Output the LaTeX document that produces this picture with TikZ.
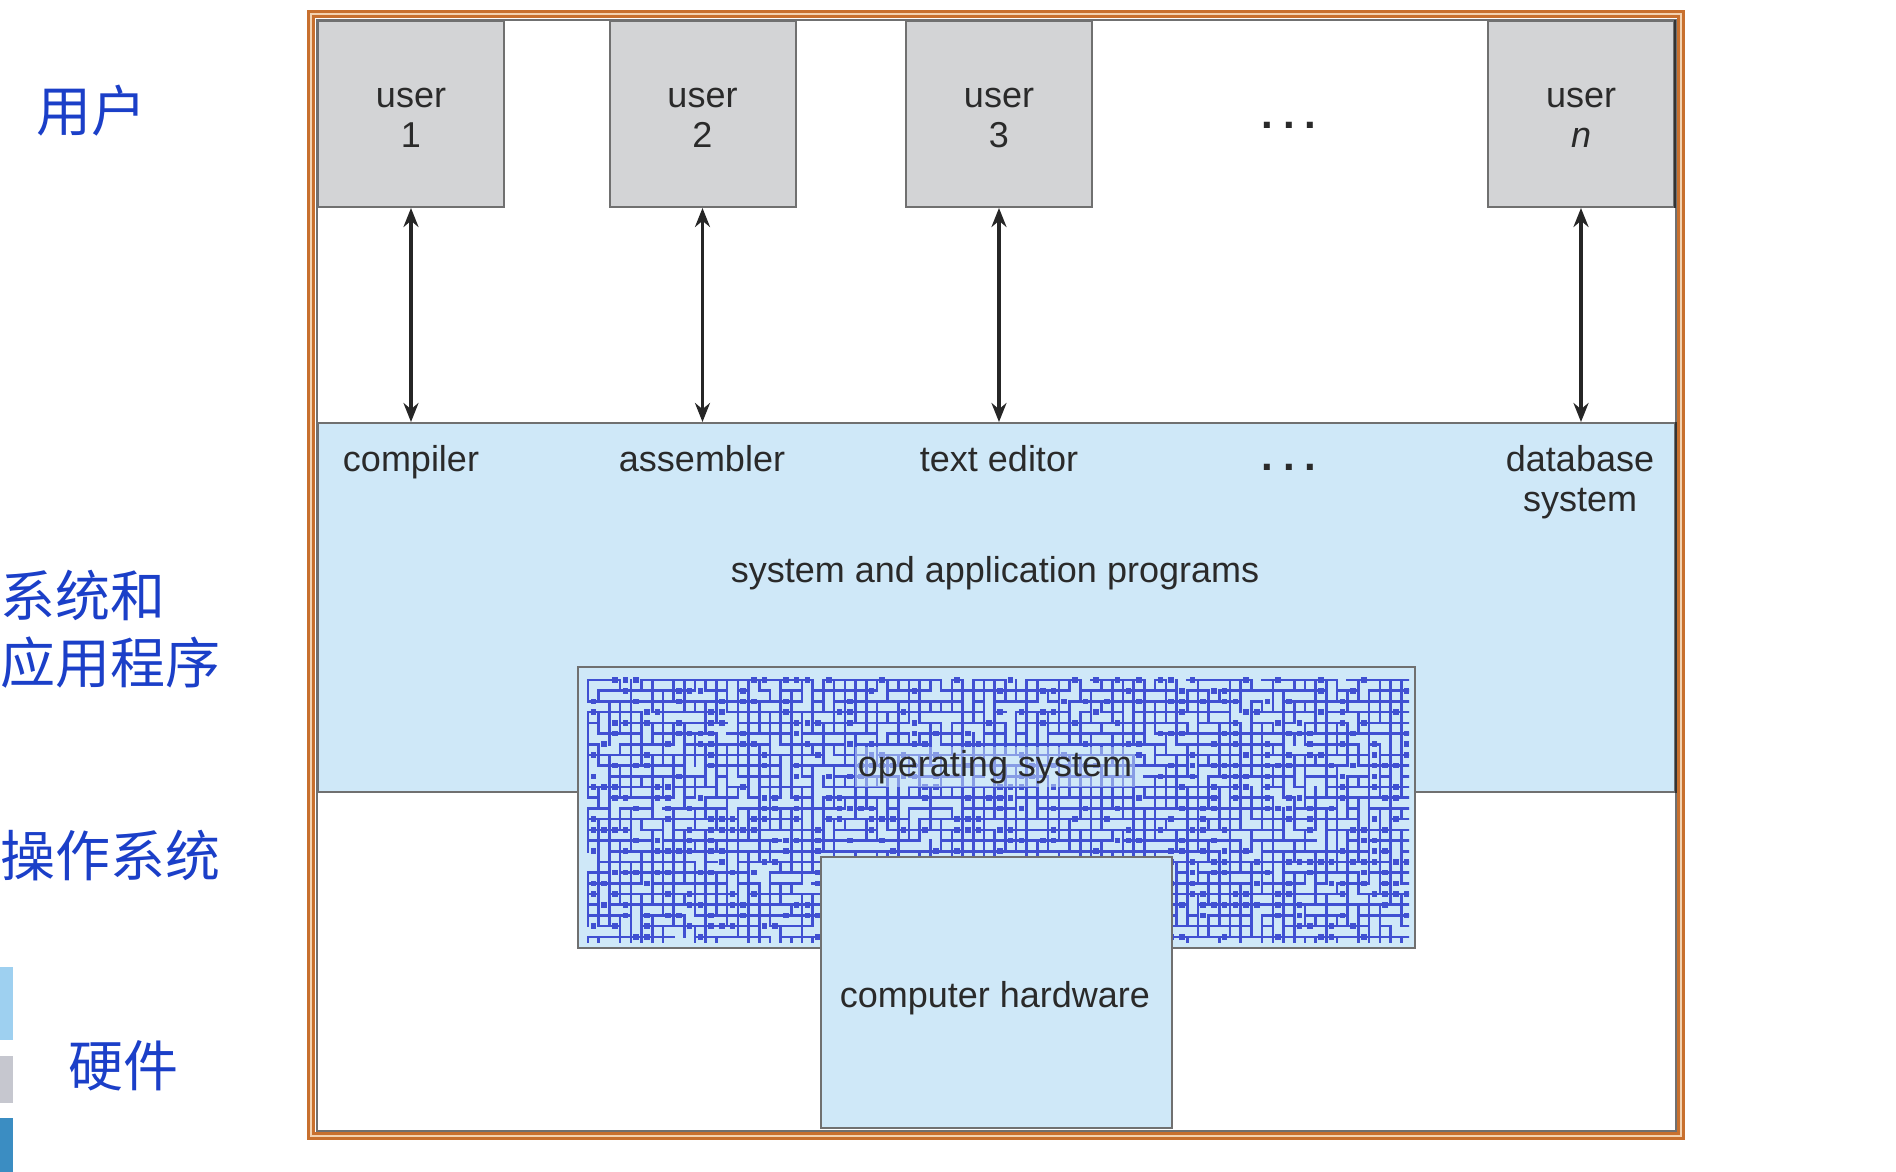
\documentclass[tikz,border=0pt]{standalone}
\usepackage{fontspec}
\setmainfont{Liberation Sans}
\newfontfamily\cjk{Noto Sans CJK SC}
\usetikzlibrary{arrows.meta}
\definecolor{frameorange}{HTML}{C8702E}
\definecolor{framecream}{HTML}{F3D2B0}
\definecolor{appblue}{HTML}{CFE8F8}
\definecolor{usergrey}{HTML}{D3D4D6}
\definecolor{edgegrey}{HTML}{707070}
\definecolor{txt}{HTML}{2A2A2A}
\definecolor{cnblue}{HTML}{1B3FC8}
\definecolor{patblue}{HTML}{4050D2}
\definecolor{decoA}{HTML}{9ED0F0}
\definecolor{decoB}{HTML}{C6C7CF}
\definecolor{decoC}{HTML}{3B8DC2}
\tikzset{
  userbox/.style={draw=edgegrey, line width=2pt, fill=usergrey, minimum width=186pt, minimum height=186pt, inner sep=0pt, align=center, text=txt, font=\fontsize{36}{40}\selectfont, text height=66pt, text depth=0pt},
  lbl/.style={text=txt, font=\fontsize{36}{40}\selectfont, align=center, inner sep=0pt},
  rowlbl/.style={lbl, text height=26pt, text depth=7pt},
  dots/.style={text=txt, font=\bfseries\fontsize{42}{44}\selectfont, inner sep=0pt},
  cnlbl/.style={text=cnblue, font=\cjk\fontsize{55}{60}\selectfont, inner sep=0pt},
  biarrow/.style={line width=3.2pt, {Stealth[length=19pt,width=15pt]}-{Stealth[length=19pt,width=15pt]}, black!85},
  ospat/.style={draw=patblue, line width=2.6pt, line cap=rect},
}
\begin{document}
\begin{tikzpicture}[x=1pt,y=-1pt]
\useasboundingbox (0,0) rectangle (1896,1172);
\fill[white] (0,0) rectangle (1896,1172);
% left decoration blocks
\fill[decoA] (0,967) rectangle (13,1040);
\fill[decoB] (0,1056) rectangle (13,1103);
\fill[decoC] (0,1118) rectangle (13,1172);
% frame
\fill[white] (312,15) rectangle (1680,1135);
\draw[frameorange, line width=8pt] (311,14) rectangle (1681,1136);
\draw[framecream, line width=2pt] (311,14) rectangle (1681,1136);
\draw[edgegrey, line width=1.5pt] (317,20) rectangle (1676,1131);
% application layer
\node[draw=edgegrey, line width=2pt, fill=appblue, minimum width=1357pt, minimum height=369pt, inner sep=0pt] (app) at (996.5,607.5) {};
\draw[black!80, line width=2.5pt] (app.north east) -- (app.south east);
% users
\node[userbox] (u1) at (411,114) {user\\1};
\node[userbox] (u2) at (702.5,114) {user\\2};
\node[userbox] (u3) at (999,114) {user\\3};
\node[userbox] (un) at (1581,114) {user\\\textit{n}};
\draw[black!80, line width=2.5pt] (un.north east) -- (un.south east);
\node[dots] (dtop) at (1289,125) {.\hspace{10pt}.\hspace{10pt}.};
% arrows
\draw[biarrow] (u1.south) -- (u1.south |- app.north);
\draw[biarrow] (u2.south) -- (u2.south |- app.north);
\draw[biarrow] (u3.south) -- (u3.south |- app.north);
\draw[biarrow] (un.south) -- (un.south |- app.north);
% program labels
\node[rowlbl] (comp) at (411,462) {compiler};
\node[rowlbl] (asm) at (702,462) {assembler};
\node[rowlbl] (ted) at (999,462) {text editor};
\node[dots] (dmid) at (1289,467) {.\hspace{10pt}.\hspace{10pt}.};
\node[lbl] (db) at (1580,482) {database\\system};
\node[lbl] (sap) at (995,573) {system and application programs};
% operating system
\node[draw=edgegrey, line width=2pt, fill=appblue, minimum width=837pt, minimum height=281pt, inner sep=0pt] (os) at (996.5,807.5) {};
\begin{scope}
\clip (585,674) rectangle (1409,942);
\pgfmathsetseed{23}
\foreach \i in {0,...,76}{
  \foreach \j in {0,...,24}{
    \pgfmathsetmacro{\xx}{588+\i*10.7}
    \pgfmathsetmacro{\yy}{680+\j*10.7}
    \pgfmathrandominteger{\ra}{0}{19}
    \pgfmathrandominteger{\rb}{0}{19}
    \pgfmathrandominteger{\rc}{0}{9}
    \ifnum\ra<17 \draw[ospat] (\xx,\yy) -- ++(10.7,0); \fi
    \ifnum\rb<16 \draw[ospat] (\xx,\yy) -- ++(0,10.7); \fi
    \ifnum\rc<3 \fill[patblue] (\xx+5.35-2.8,\yy-2.8) rectangle ++(5.6,5.6); \fi
  }}
\end{scope}
\node[lbl, fill=appblue, fill opacity=0.5, text opacity=1, inner sep=3pt] (ostxt) at (995,767) {operating system};
% hardware
\node[draw=edgegrey, line width=2pt, fill=appblue, minimum width=351pt, minimum height=271pt, inner sep=0pt] (hw) at (996.5,992.5) {};
\node[lbl] (hwtxt) at (995,998) {computer hardware};
% Chinese labels
\node[cnlbl] (cu) at (91,111) {用户};
\node[cnlbl, anchor=west] (cs1) at (0,595) {系统和};
\node[cnlbl, anchor=west] (cs2) at (0,663) {应用程序};
\node[cnlbl, anchor=west] (cos) at (0,856) {操作系统};
\node[cnlbl] (chw) at (123,1066) {硬件};
\end{tikzpicture}
\end{document}
